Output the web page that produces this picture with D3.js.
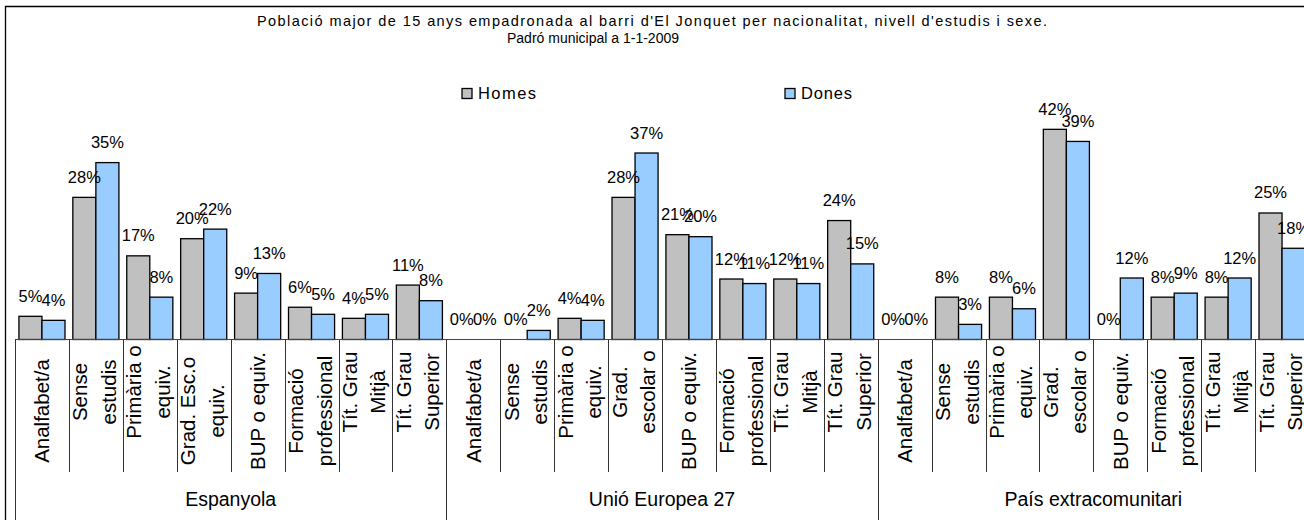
<!DOCTYPE html>
<html>
<head>
<meta charset="utf-8">
<script src="https://cdn.jsdelivr.net/npm/d3@7"></script>
<style>
    body { margin: 0; background: #fff; }
    svg { display: block; font-family: "Liberation Sans", Arial, sans-serif; }
</style>
</head>
<body>
<div class="chart_holder"></div>
<script>

const groups = ["Espanyola", "Unió Europea 27", "País extracomunitari"]
const levels = ["Analfabet/a", "Sense estudis", "Primària o equiv.", "Grad. escolar o equiv.", "BUP o equiv.", "Formació professional", "Tít. Grau Mitjà", "Tít. Grau Superior"]
const sexes = ["Homes", "Dones"]

// category labels as they wrap on the axis
const labels_espanyola = [["Analfabet/a"], ["Sense", "estudis"], ["Primària o", "equiv."], ["Grad. Esc.o", "equiv."], ["BUP o equiv."], ["Formació", "professional"], ["Tít. Grau", "Mitjà"], ["Tít. Grau", "Superior"]]
const labels_ue = [["Analfabet/a"], ["Sense", "estudis"], ["Primària o", "equiv."], ["Grad.", "escolar o"], ["BUP o equiv."], ["Formació", "professional"], ["Tít. Grau", "Mitjà"], ["Tít. Grau", "Superior"]]
const labels_extra = labels_ue

// % per nivell d'estudis
const homes_espanyola = [4.6, 28.2, 16.6, 20.0, 9.2, 6.4, 4.2, 10.8]
const dones_espanyola = [3.8, 35.1, 8.4, 21.9, 13.1, 5.0, 5.0, 7.7]
const homes_ue = [0, 0, 4.2, 28.2, 20.8, 12.0, 12.0, 23.6]
const dones_ue = [0, 1.8, 3.8, 37.0, 20.4, 11.1, 11.1, 15.0]
const homes_extra = [0, 8.4, 8.4, 41.7, 0, 8.4, 8.4, 25.1]
const dones_extra = [0, 3.0, 6.1, 39.3, 12.2, 9.2, 12.2, 18.1]

const title_1 = "Població major de 15 anys empadronada al barri d'El Jonquet per nacionalitat, nivell d'estudis i sexe."
const title_2 = "Padró municipal a 1-1-2009"

const width = 1304
const height = 520

const series = {
    "Espanyola": { Homes: homes_espanyola, Dones: dones_espanyola, labels: labels_espanyola },
    "Unió Europea 27": { Homes: homes_ue, Dones: dones_ue, labels: labels_ue },
    "País extracomunitari": { Homes: homes_extra, Dones: dones_extra, labels: labels_extra }
}

const data = []
groups.forEach(g => {
    levels.forEach((l, i) => {
        sexes.forEach(s => {
            data.push({ group: g, level: l, sex: s, value: series[g][s][i] })
        })
    })
})

const svg = d3.select(".chart_holder")
    .append("svg")
    .attr("width", width)
    .attr("height", height)

const x_group = d3.scaleBand()
    .domain(groups)
    .range([15, 1309])

const x_level = d3.scaleBand()
    .domain(levels)
    .range([0, x_group.bandwidth()])

const x_sex = d3.scaleBand()
    .domain(sexes)
    .range([0, x_level.bandwidth()])
    .paddingOuter(0.17)

const baseline = 339.5
const y = d3.scaleLinear()
    .domain([0, 45])
    .range([baseline, baseline - 45 * 5.04])

const color = d3.scaleOrdinal()
    .domain(sexes)
    .range(["#C0C0C0", "#99CCFF"])

// outer frame (chart is cut on the right and bottom)
svg.append("path")
    .attr("d", `M5.5,${height} V6.5 H${width}`)
    .attr("fill", "none")
    .attr("stroke", "#000")
    .attr("stroke-width", 1.3)

// title
svg.append("text")
    .attr("x", 257)
    .attr("y", 25.5)
    .attr("font-size", 14.5)
    .attr("textLength", 790)
    .attr("lengthAdjust", "spacing")
    .text(title_1)

svg.append("text")
    .attr("x", 507)
    .attr("y", 43)
    .attr("font-size", 14)
    .text(title_2)

// legend
const legend_x = { Homes: 462, Dones: 785 }
const legend = svg.append("g")
    .selectAll("g")
    .data(sexes)
    .join("g")
    .attr("transform", d => `translate(${legend_x[d]},88.5)`)

legend.append("rect")
    .attr("width", 10)
    .attr("height", 10)
    .attr("fill", d => color(d))
    .attr("stroke", "#000")
    .attr("stroke-width", 1.3)

legend.append("text")
    .attr("x", 16)
    .attr("y", 10.5)
    .attr("font-size", 16.5)
    .attr("textLength", d => d == "Homes" ? 58 : 51)
    .attr("lengthAdjust", "spacing")
    .text(d => d)

const bar_x = d => x_group(d.group) + x_level(d.level) + x_sex(d.sex)

// bars
svg.append("g")
    .selectAll("rect")
    .data(data.filter(d => d.value > 0))
    .join("rect")
    .attr("x", bar_x)
    .attr("y", d => y(d.value))
    .attr("width", x_sex.bandwidth())
    .attr("height", d => y(0) - y(d.value))
    .attr("fill", d => color(d.sex))
    .attr("stroke", "#000")
    .attr("stroke-width", 1.3)

// axis line
svg.append("line")
    .attr("x1", 15)
    .attr("x2", width)
    .attr("y1", baseline)
    .attr("y2", baseline)
    .attr("stroke", "#444")
    .attr("stroke-width", 1)

// value labels
svg.append("g")
    .selectAll("text")
    .data(data)
    .join("text")
    .attr("x", d => bar_x(d) + x_sex.bandwidth() / 2)
    .attr("y", d => y(d.value) - 14.5)
    .attr("text-anchor", "middle")
    .attr("font-size", 16.5)
    .text(d => Math.round(d.value) + "%")

// category separators and group separators
const ticks = svg.append("g")
    .attr("stroke", "#333")
    .attr("stroke-width", 1)

groups.forEach(g => {
    levels.forEach((l, i) => {
        const x0 = Math.round(x_group(g) + x_level(l)) + 0.5
        ticks.append("line")
            .attr("x1", x0).attr("x2", x0)
            .attr("y1", baseline)
            .attr("y2", i == 0 ? height : 472)
    })
})

// category labels
const cat_labels = svg.append("g")
    .attr("font-size", 20.5)

groups.forEach(g => {
    levels.forEach((l, i) => {
        const lines = series[g].labels[i]
        const cx = x_group(g) + x_level(l) + x_level.bandwidth() / 2
        const offsets = lines.length == 1 ? [7.5] : [-8.5, 20]
        const items = lines.map((t, j) => cat_labels.append("text")
            .attr("text-anchor", "middle")
            .text(t)
            .datum(cx + offsets[j]))
        const longest = d3.max(items, t => t.node().getComputedTextLength())
        const cy = longest > 100 ? 411 : 392
        items.forEach(t => t.attr("transform", d => `translate(${d},${cy}) rotate(-90)`))
    })
})

// group labels
svg.append("g")
    .selectAll("text")
    .data(groups)
    .join("text")
    .attr("x", d => x_group(d) + x_group.bandwidth() / 2)
    .attr("y", 506)
    .attr("text-anchor", "middle")
    .attr("font-size", 19.5)
    .text(d => d)

</script>
</body>
</html>
